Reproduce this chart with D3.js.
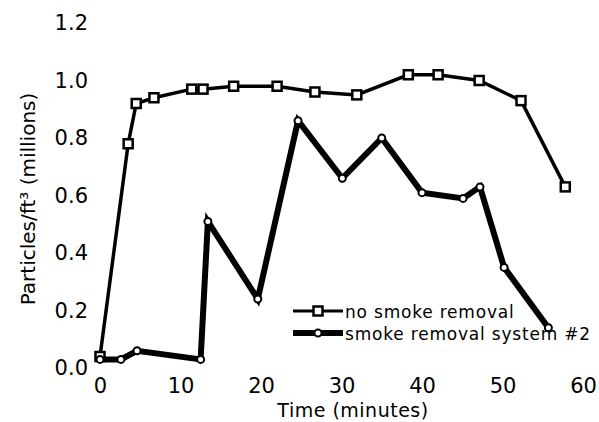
<!DOCTYPE html>
<html>
<head>
<meta charset="utf-8">
<script src="https://cdn.jsdelivr.net/npm/d3@7"></script>
<style>
  html, body { margin: 0; padding: 0; background: #fff; }
  svg { display: block; font-family: "DejaVu Sans", sans-serif; }
</style>
</head>
<body>
<svg id="chart" width="599" height="422"></svg>
<script>
// ---- data ----
const noRemovalTime = [0, 3.5, 4.5, 6.7, 11.4, 12.8, 16.6, 22.0, 26.7, 31.9, 38.3, 42.0, 47.1, 52.3, 57.8];
const noRemovalValue = [0.04, 0.78, 0.92, 0.94, 0.97, 0.97, 0.98, 0.98, 0.96, 0.95, 1.02, 1.02, 1.00, 0.93, 0.63];
const system2Time = [0, 2.6, 4.6, 12.5, 13.4, 19.6, 24.6, 30.1, 35.0, 40.0, 45.1, 47.2, 50.2, 55.7];
const system2Value = [0.03, 0.03, 0.06, 0.03, 0.51, 0.24, 0.86, 0.66, 0.80, 0.61, 0.59, 0.63, 0.35, 0.14];
const xTicks = [0, 10, 20, 30, 40, 50, 60];
const yTicks = [0.0, 0.2, 0.4, 0.6, 0.8, 1.0, 1.2];
const seriesNames = ["no smoke removal", "smoke removal system #2"];
const xTitle = "Time (minutes)";
const yTitle = "Particles/ft³ (millions)";

// ---- layout ----
const FONT = "'DejaVu Sans', sans-serif";
const svg = d3.select("#chart");
const x = d3.scaleLinear().domain([0, 60]).range([100, 583]);
const y = d3.scaleLinear().domain([0, 1.2]).range([368, 23]);

// axes (labels only, no lines)
const yAxis = svg.append("g")
  .attr("transform", "translate(88,0)")
  .call(d3.axisLeft(y).tickValues(yTicks).tickFormat(d3.format(".1f")).tickSize(0).tickPadding(0));
yAxis.select(".domain").remove();
yAxis.selectAll("text").attr("font-size", 21).attr("fill", "#000").attr("font-family", FONT);

const xAxis = svg.append("g")
  .attr("transform", "translate(0,378)")
  .call(d3.axisBottom(x).tickValues(xTicks).tickFormat(d3.format("d")).tickSize(0).tickPadding(0));
xAxis.select(".domain").remove();
xAxis.selectAll("text").attr("font-size", 21).attr("fill", "#000").attr("font-family", FONT);

// titles
svg.append("text")
  .attr("x", 353).attr("y", 417)
  .attr("text-anchor", "middle")
  .attr("font-size", 19)
  .attr("letter-spacing", 0.5)
  .text(xTitle);
svg.append("text")
  .attr("transform", "translate(35,199) rotate(-90)")
  .attr("text-anchor", "middle")
  .attr("font-size", 20)
  .text(yTitle);

// series
const s1 = noRemovalTime.map((t, i) => [t, noRemovalValue[i]]);
const s2 = system2Time.map((t, i) => [t, system2Value[i]]);
const line = d3.line().x(d => x(d[0])).y(d => y(d[1]));

svg.append("path").datum(s1)
  .attr("d", line).attr("fill", "none").attr("stroke", "#000").attr("stroke-width", 3.5);
svg.append("path").datum(s2)
  .attr("d", line).attr("fill", "none").attr("stroke", "#000").attr("stroke-width", 6);

svg.selectAll(".sq").data(s1).enter().append("rect")
  .attr("x", d => x(d[0]) - 4.5).attr("y", d => y(d[1]) - 4.5)
  .attr("width", 9).attr("height", 9)
  .attr("fill", "#fff").attr("stroke", "#000").attr("stroke-width", 2.5);
svg.selectAll(".ci").data(s2).enter().append("circle")
  .attr("cx", d => x(d[0])).attr("cy", d => y(d[1])).attr("r", 3.5)
  .attr("fill", "#fff").attr("stroke", "#000").attr("stroke-width", 2);

// legend
const legend = svg.append("g");
const rows = [
  {name: seriesNames[0], ly: 311, ty: 318, w: 3, marker: "sq"},
  {name: seriesNames[1], ly: 333, ty: 340, w: 6, marker: "ci"}
];
rows.forEach(r => {
  legend.append("line").attr("x1", 293).attr("x2", 343).attr("y1", r.ly).attr("y2", r.ly)
    .attr("stroke", "#000").attr("stroke-width", r.w);
  if (r.marker === "sq") {
    legend.append("rect").attr("x", 313.5).attr("y", r.ly - 4.5).attr("width", 9).attr("height", 9)
      .attr("fill", "#fff").attr("stroke", "#000").attr("stroke-width", 2.5);
  } else {
    legend.append("circle").attr("cx", 318).attr("cy", r.ly).attr("r", 3.5)
      .attr("fill", "#fff").attr("stroke", "#000").attr("stroke-width", 2);
  }
  legend.append("text").attr("x", 345).attr("y", r.ty)
    .attr("font-size", 17).attr("letter-spacing", 0.8).text(r.name);
});
</script>
</body>
</html>
